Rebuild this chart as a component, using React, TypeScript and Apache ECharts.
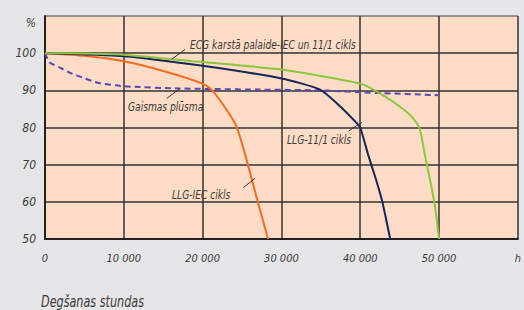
import React, { useEffect, useRef } from "react";
import * as echarts from "echarts";

const xTicks = [0, 10000, 20000, 30000, 40000, 50000, 60000];
const yTicks = [50, 60, 70, 80, 90, 100, 110];

const ecgHotStart: [number, number][] = [
  [0, 100], [5000, 99.9], [10000, 99.6], [20000, 97.6], [30000, 95.6],
  [40000, 91.8], [42000, 89.8], [44400, 86.6], [46400, 83.2], [47500, 80],
  [48200, 72.7], [49400, 60], [50000, 50],
];
const llg111: [number, number][] = [
  [0, 100], [10000, 99.2], [20000, 96.6], [30000, 93.2], [34900, 90.2],
  [37400, 85.8], [39500, 81.3], [40000, 80], [41000, 72.7], [42000, 66],
  [42800, 60], [43800, 50],
];
const llgIec: [number, number][] = [
  [0, 100], [5000, 99.3], [10000, 97.8], [15000, 95.2], [20000, 91.8],
  [21200, 90], [22800, 85.5], [24250, 80.5], [25400, 72.7], [27000, 60],
  [28300, 50],
];
const luminousFlux: [number, number][] = [
  [0, 100], [600, 97.5], [1900, 96.1], [3200, 94.7], [4800, 93.4],
  [6800, 92], [10000, 91.1], [17000, 90.5], [27000, 90.2], [35000, 90],
  [42000, 89.3], [50000, 88.7],
];

const FONT = "'Liberation Sans Narrow', 'DejaVu Sans Condensed', 'Noto Sans', sans-serif";
const TXT = "#3a3a3a";

export default function App() {
  const ref = useRef<HTMLDivElement>(null);
  useEffect(() => {
    if (!ref.current) return;
    const chart = echarts.init(ref.current, null, { renderer: "svg" });
    const lineSeries = (name: string, data: [number, number][], color: string, dashed = false) => ({
      name,
      type: "line",
      data,
      showSymbol: false,
      smooth: 0.2,
      lineStyle: { color, width: 2, type: dashed ? [6, 4] : "solid" },
      z: 3,
    });
    const textStyle = { fontFamily: FONT, fontStyle: "italic", fontSize: 13, fill: TXT };
    const label = (text: string, x: number, y: number, size = 13) => ({
      type: "text", x, y, scaleX: 0.78, z: 10,
      style: { ...textStyle, fontSize: size, text, verticalAlign: "middle" },
    });
    const leader = (x1: number, y1: number, x2: number, y2: number) => ({
      type: "line", z: 10, shape: { x1, y1, x2, y2 }, style: { stroke: "#333", lineWidth: 1 },
    });
    chart.setOption({
      animation: false,
      backgroundColor: "#e6e6e8",
      grid: {
        left: 45, right: -3, top: 16, bottom: 71,
        show: true, backgroundColor: "#fedcc5", borderWidth: 0,
      },
      xAxis: {
        type: "value", min: xTicks[0], max: xTicks[xTicks.length - 1], interval: 10000,
        axisLine: { show: true, lineStyle: { color: "#222", width: 2 } },
        axisTick: { show: false },
        splitLine: { show: true, lineStyle: { color: "#333", width: 1.5 } },
        axisLabel: {
          margin: 14, color: TXT, fontFamily: FONT, fontStyle: "italic", fontSize: 11,
          formatter: (v: number) => (v === 0 ? "0" : v === 60000 ? "h" : `${v / 1000} 000`),
        },
      },
      yAxis: {
        type: "value", min: yTicks[0], max: yTicks[yTicks.length - 1], interval: 10,
        axisLine: { show: true, lineStyle: { color: "#222", width: 2 } },
        axisTick: { show: false },
        splitLine: {
          show: true,
          lineStyle: { color: ["#333", "#333", "#333", "#333", "#333", "#333", "#777"], width: 1.5 },
        },
        axisLabel: {
          margin: 9, color: TXT, fontFamily: FONT, fontStyle: "italic", fontSize: 12,
          formatter: (v: number) => (v === 110 ? "" : String(v)),
        },
      },
      series: [
        lineSeries("Gaismas plūsma", luminousFlux, "#5a48b4", true),
        lineSeries("LLG-IEC cikls", llgIec, "#f26c22"),
        lineSeries("LLG-11/1 cikls", llg111, "#16255a"),
        lineSeries("ECG karstā palaide-IEC un 11/1 cikls", ecgHotStart, "#8cc63f"),
      ],
      graphic: [
        { type: "text", x: 36, y: 22.5, z: 10, style: { ...textStyle, fontSize: 12, text: "%", align: "right", verticalAlign: "middle" } },
        label("ECG karstā palaide-IEC un 11/1 cikls", 190, 45),
        leader(172, 59, 185, 49.5),
        label("Gaismas plūsma", 128, 107),
        leader(166.7, 98.5, 180, 88.5),
        label("LLG-11/1 cikls", 287, 139.5),
        leader(348.7, 131, 362, 122.3),
        label("LLG-IEC cikls", 172, 194.5),
        leader(243.3, 187.7, 255, 178.3),
        label("Degšanas stundas", 41, 301, 16),
      ],
    });
    return () => chart.dispose();
  }, []);
  return (
    <div
      ref={ref}
      style={{ position: "fixed", left: 0, top: 0, width: 524, height: 310 }}
    />
  );
}
